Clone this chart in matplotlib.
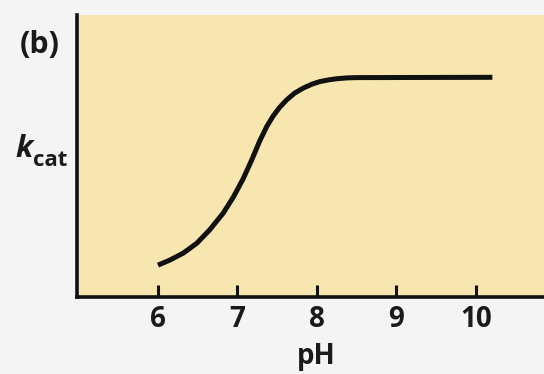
import matplotlib
matplotlib.use("Agg")
import matplotlib.pyplot as plt

ph = [6.00, 6.15, 6.32, 6.49, 6.65, 6.82, 6.95, 7.07, 7.18, 7.28, 7.37, 7.45, 7.53, 7.62, 7.72,
      7.83, 7.94, 8.04, 8.15, 8.25, 8.38, 8.50, 10.21]
kcat = [0.113, 0.131, 0.156, 0.191, 0.238, 0.297, 0.355, 0.418, 0.486, 0.553, 0.605, 0.642, 0.672, 0.699, 0.723,
        0.741, 0.755, 0.764, 0.770, 0.774, 0.777, 0.778, 0.779]
xticks = [6, 7, 8, 9, 10]
xticklabels = ["6", "7", "8", "9", "10"]

plt.rcParams['font.family'] = ['Open Sans', 'DejaVu Sans']

fig = plt.figure(figsize=(5.44, 3.74), dpi=100, facecolor='#f4f4f4')
ax = fig.add_axes([77/544, 77/374, 467/544, 282/374])
ax.set_facecolor('#f7e6b0')
ax.plot(ph, kcat, color='#111111', lw=3.6, solid_capstyle='butt', solid_joinstyle='round')
ax.set_xlim(4.98, 10.86)
ax.set_ylim(0, 1)
ax.set_xticks(xticks)
ax.set_xticklabels(xticklabels, fontsize=20, fontweight='bold', color='#1a1a1a')
ax.set_yticks([])
ax.tick_params(axis='x', direction='in', length=9, width=2.2, pad=6, color='#111111')
for s in ['top', 'right']:
    ax.spines[s].set_visible(False)
for s in ['left', 'bottom']:
    ax.spines[s].set_linewidth(2.6)
    ax.spines[s].set_color('#111111')
ax.set_xlabel('pH', fontsize=20, fontweight='bold', color='#1a1a1a')
ax.xaxis.set_label_coords((316 - 77) / 467, -(342 - 297) / 282)

fig.text(20/544, 1 - 53/374, '(b)', fontsize=22, fontweight='bold', color='#1a1a1a', ha='left', va='baseline')
fig.text(15/544, 1 - 157/374, 'k', fontsize=22, fontweight='bold', style='italic', color='#1a1a1a', ha='left', va='baseline')
fig.text(33/544, 1 - 166/374, 'cat', fontsize=16, fontweight='bold', color='#1a1a1a', ha='left', va='baseline')

fig.savefig('out.png', dpi=100, facecolor=fig.get_facecolor())
